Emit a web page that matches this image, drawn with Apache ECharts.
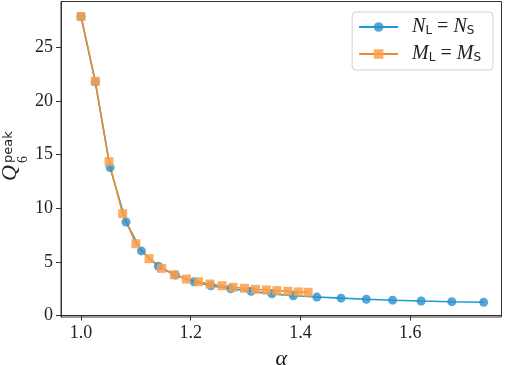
<!DOCTYPE html>
<html>
<head>
<meta charset="utf-8">
<script src="https://cdn.jsdelivr.net/npm/echarts@6/dist/echarts.min.js"></script>
<style>
html,body{margin:0;padding:0;background:#fff;}
#c{width:505px;height:365px;}
</style>
</head>
<body>
<div id="c"></div>
<script>
// Series N_L = N_S
var alphaN = [1.0, 1.026, 1.053, 1.082, 1.110, 1.141, 1.172, 1.206, 1.237, 1.273, 1.310, 1.348, 1.387, 1.430, 1.474, 1.520, 1.568, 1.620, 1.676, 1.734];
var qN = [27.9, 21.8, 13.8, 8.72, 6.03, 4.6, 3.78, 3.15, 2.78, 2.50, 2.26, 2.02, 1.84, 1.72, 1.62, 1.52, 1.43, 1.35, 1.29, 1.23];
// Series M_L = M_S
var alphaM = [1.0, 1.026, 1.051, 1.076, 1.100, 1.124, 1.147, 1.170, 1.192, 1.214, 1.235, 1.257, 1.277, 1.298, 1.318, 1.338, 1.357, 1.377, 1.396, 1.414];
var qM = [27.9, 21.85, 14.35, 9.5, 6.7, 5.3, 4.4, 3.8, 3.4, 3.15, 2.94, 2.78, 2.63, 2.54, 2.45, 2.38, 2.32, 2.26, 2.20, 2.17];
// Ticks
var xTicks = [1.0, 1.2, 1.4, 1.6];
var yTicks = [0, 5, 10, 15, 20, 25];

function zip(a, b) { return a.map(function (v, i) { return [v, b[i]]; }); }

var SERIF = '"Liberation Serif", "DejaVu Serif", serif';
var SANS = '"DejaVu Sans", "Liberation Sans", sans-serif';
var blueLine = '#1b9ad7', blueMark = '#2b8fcc';
var orLine = '#f28a2b', orMark = '#f99f4a';

var chart = echarts.init(document.getElementById('c'), null, {renderer: 'canvas'});
chart.setOption({
  animation: false,
  backgroundColor: '#fff',
  grid: {left: 61, right: 3.5, top: 1.5, bottom: 48, outerBoundsMode: 'none', containLabel: false,
    show: true, borderColor: '#333', borderWidth: 1, backgroundColor: 'transparent'},
  xAxis: {
    type: 'value', min: 0.9635, max: 1.7665,
    name: 'α', nameLocation: 'middle', nameGap: 31,
    nameTextStyle: {fontFamily: SERIF, fontStyle: 'italic', fontSize: 22, color: '#111'},
    axisLine: {show: true, lineStyle: {color: '#333', width: 1}},
    axisTick: {show: true, inside: false, length: 5, customValues: xTicks, lineStyle: {color: '#333'}},
    axisLabel: {customValues: xTicks, margin: 7, fontFamily: SERIF, fontSize: 18, color: '#222',
      formatter: function (v) { return v.toFixed(1); }},
    splitLine: {show: false}
  },
  yAxis: {
    type: 'value', min: -0.14, max: 29.3,
    axisLine: {show: true, lineStyle: {color: '#333', width: 1}},
    axisTick: {show: true, inside: false, length: 5, customValues: yTicks, lineStyle: {color: '#333'}},
    axisLabel: {customValues: yTicks, margin: 8, fontFamily: SERIF, fontSize: 18, color: '#222',
      formatter: function (v) { return String(Math.round(v)); }},
    splitLine: {show: false}
  },
  legend: {
    orient: 'vertical', right: 12, top: 12,
    backgroundColor: '#fff', borderColor: '#d0d0d0', borderWidth: 1, borderRadius: 4,
    padding: [5, 12, 6, 6], itemGap: 7, itemWidth: 39, itemHeight: 12,
    data: ['N', 'M'],
    formatter: function (name) {
      return '{i|' + name + '}{s|L}{e| = }{i|' + name + '}{s|S}';
    },
    textStyle: {
      color: '#222', lineHeight: 20, padding: [0, 0, 0, 9],
      rich: {
        i: {fontFamily: SERIF, fontStyle: 'italic', fontSize: 20, color: '#222', lineHeight: 20},
        s: {fontFamily: SANS, fontSize: 12, color: '#222', padding: [8, 0, 0, 0], lineHeight: 20},
        e: {fontFamily: SERIF, fontSize: 20, color: '#222', lineHeight: 20}
      }
    }
  },
  graphic: [{
    type: 'group', x: 21, y: 181, rotation: Math.PI / 2,
    children: [
      {type: 'text', x: 0, y: 0, style: {text: 'Q', font: 'italic 22px ' + SERIF, fill: '#222', textVerticalAlign: 'bottom'}},
      {type: 'text', x: 18, y: 9, style: {text: '6', font: '14px ' + SERIF, fill: '#222', textVerticalAlign: 'bottom'}},
      {type: 'text', x: 18, y: -6, style: {text: 'peak', font: '13px ' + SANS, fill: '#222', textVerticalAlign: 'bottom'}}
    ]
  }],
  series: [
    {
      name: 'N', type: 'line', data: zip(alphaN, qN),
      symbol: 'circle', symbolSize: 9,
      lineStyle: {color: blueLine, width: 1.6},
      itemStyle: {color: blueMark, opacity: 0.8},
      color: blueLine
    },
    {
      name: 'M', type: 'line', data: zip(alphaM, qM),
      symbol: 'rect', symbolSize: 9,
      lineStyle: {color: orLine, width: 1.6},
      itemStyle: {color: orMark, opacity: 0.85},
      color: orLine
    }
  ]
});
</script>
</body>
</html>
